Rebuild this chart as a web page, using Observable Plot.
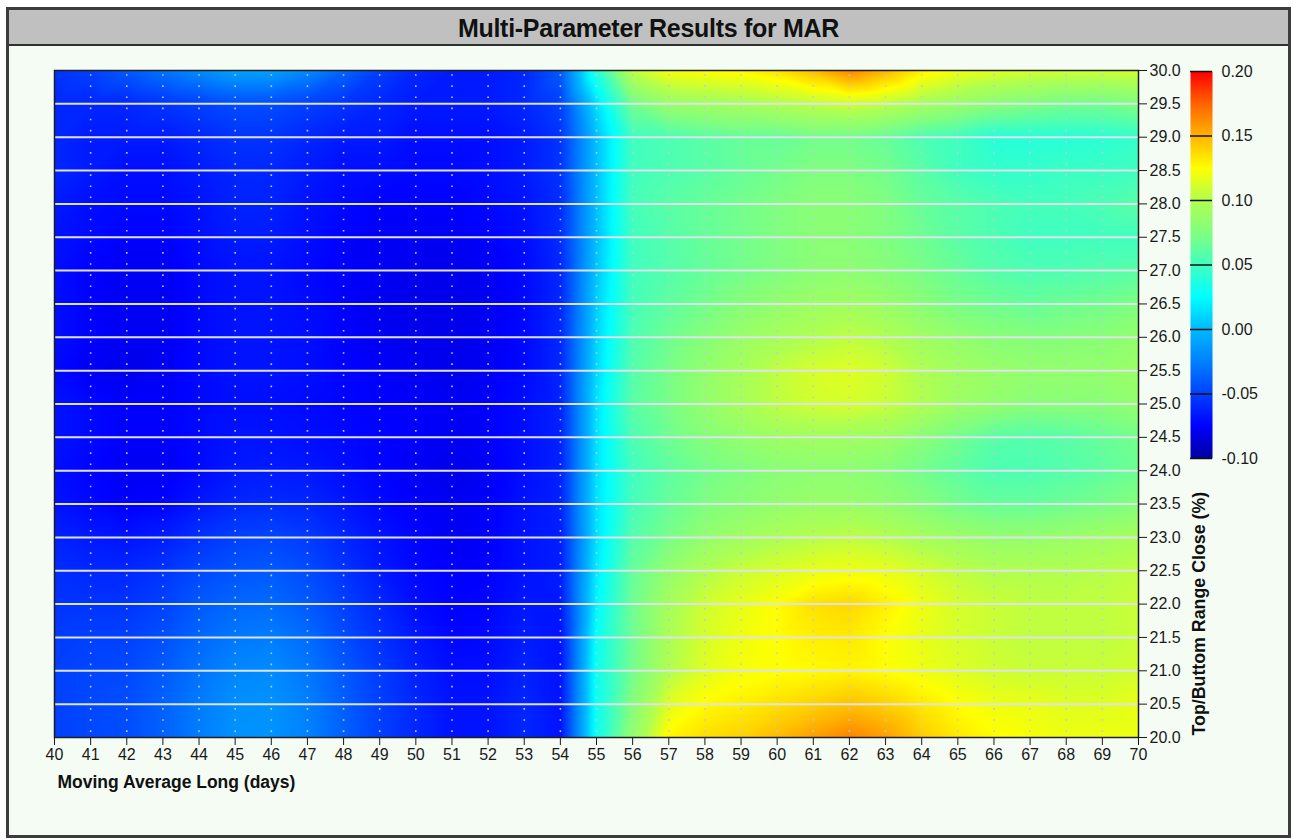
<!DOCTYPE html>
<html>
<head>
<meta charset="utf-8">
<script src="https://cdn.jsdelivr.net/npm/d3@7"></script>
<script src="https://cdn.jsdelivr.net/npm/@observablehq/plot@0.6"></script>
<style>
  body { margin: 0; background: #ffffff; font-family: Arial, "Liberation Sans", sans-serif; }
  #frame { position: absolute; left: 6px; top: 7px; width: 1279px; height: 825px; border: 3px solid #3c3c3c; background: #f4fcf4; }
  #title { height: 34px; line-height: 37px; background: #c0c0c0; border-bottom: 2px solid #303030; text-align: center; font-weight: bold; font-size: 25px; letter-spacing: -0.3px; color: #111; }
  #main { position: absolute; left: 9px; top: 47px; }
  #bar { position: absolute; left: 1180px; top: 50px; }
</style>
</head>
<body>
<div id="frame"><div id="title">Multi-Parameter Results for MAR</div></div>
<div id="main"></div>
<div id="bar"></div>
<script>
// ---- data ----
const xDays = [40,41,42,43,44,45,46,47,48,49,50,51,52,53,54,55,56,57,58,59,60,61,62,63,64,65,66,67,68,69,70];
const yRange = [30.0,29.5,29.0,28.5,28.0,27.5,27.0,26.5,26.0,25.5,25.0,24.5,24.0,23.5,23.0,22.5,22.0,21.5,21.0,20.5,20.0];

const row_30_0 = [-0.055,-0.05,-0.04,-0.03,-0.02,-0.01,-0.01,-0.02,-0.035,-0.05,-0.06,-0.065,-0.065,-0.06,-0.04,0.04,0.105,0.122,0.125,0.128,0.135,0.148,0.165,0.15,0.13,0.12,0.115,0.112,0.11,0.11,0.112];
const row_29_5 = [-0.06,-0.06,-0.06,-0.055,-0.05,-0.045,-0.045,-0.05,-0.055,-0.06,-0.065,-0.065,-0.065,-0.06,-0.05,0.014,0.07,0.088,0.092,0.095,0.1,0.105,0.11,0.105,0.095,0.088,0.08,0.075,0.07,0.07,0.075];
const row_29_0 = [-0.06,-0.065,-0.065,-0.065,-0.06,-0.055,-0.055,-0.06,-0.065,-0.065,-0.07,-0.07,-0.07,-0.065,-0.055,0.003,0.05,0.055,0.06,0.065,0.065,0.07,0.07,0.065,0.055,0.05,0.04,0.04,0.04,0.042,0.045];
const row_28_5 = [-0.06,-0.065,-0.07,-0.07,-0.065,-0.06,-0.06,-0.065,-0.07,-0.07,-0.072,-0.072,-0.07,-0.065,-0.055,0.003,0.05,0.055,0.06,0.065,0.07,0.075,0.075,0.07,0.06,0.05,0.045,0.045,0.048,0.048,0.05];
const row_28_0 = [-0.065,-0.07,-0.072,-0.072,-0.068,-0.062,-0.062,-0.068,-0.072,-0.075,-0.075,-0.075,-0.072,-0.068,-0.058,0.003,0.052,0.06,0.065,0.07,0.075,0.08,0.08,0.075,0.065,0.06,0.055,0.052,0.052,0.055,0.06];
const row_27_5 = [-0.068,-0.072,-0.075,-0.075,-0.07,-0.065,-0.065,-0.07,-0.075,-0.078,-0.078,-0.078,-0.075,-0.07,-0.058,0.003,0.05,0.058,0.065,0.07,0.075,0.08,0.08,0.075,0.068,0.06,0.055,0.05,0.05,0.05,0.05];
const row_27_0 = [-0.07,-0.075,-0.078,-0.078,-0.072,-0.068,-0.068,-0.072,-0.076,-0.078,-0.08,-0.08,-0.078,-0.072,-0.06,0.005,0.05,0.058,0.065,0.07,0.075,0.08,0.082,0.078,0.072,0.065,0.058,0.055,0.055,0.058,0.06];
const row_26_5 = [-0.07,-0.075,-0.078,-0.078,-0.072,-0.068,-0.068,-0.071,-0.075,-0.078,-0.08,-0.08,-0.078,-0.072,-0.06,0.008,0.052,0.062,0.07,0.078,0.085,0.09,0.092,0.088,0.08,0.072,0.068,0.065,0.068,0.07,0.075];
const row_26_0 = [-0.07,-0.075,-0.078,-0.078,-0.072,-0.068,-0.068,-0.07,-0.075,-0.078,-0.08,-0.08,-0.078,-0.072,-0.06,0.01,0.055,0.068,0.078,0.088,0.095,0.1,0.105,0.1,0.092,0.085,0.08,0.078,0.078,0.08,0.085];
const row_25_5 = [-0.072,-0.078,-0.08,-0.078,-0.072,-0.068,-0.068,-0.07,-0.074,-0.076,-0.078,-0.08,-0.078,-0.072,-0.06,0.012,0.058,0.072,0.085,0.095,0.105,0.112,0.115,0.11,0.1,0.092,0.088,0.085,0.085,0.085,0.088];
const row_25_0 = [-0.068,-0.072,-0.075,-0.075,-0.072,-0.07,-0.07,-0.072,-0.074,-0.075,-0.076,-0.078,-0.076,-0.07,-0.062,0.015,0.06,0.072,0.085,0.095,0.105,0.11,0.112,0.108,0.1,0.09,0.085,0.08,0.08,0.08,0.085];
const row_24_5 = [-0.068,-0.072,-0.076,-0.076,-0.072,-0.068,-0.068,-0.07,-0.072,-0.074,-0.076,-0.078,-0.076,-0.07,-0.062,0.015,0.055,0.068,0.078,0.085,0.09,0.092,0.092,0.09,0.08,0.07,0.06,0.058,0.06,0.065,0.07];
const row_24_0 = [-0.07,-0.074,-0.078,-0.078,-0.072,-0.066,-0.065,-0.066,-0.07,-0.074,-0.078,-0.08,-0.078,-0.07,-0.062,0.015,0.05,0.062,0.07,0.075,0.08,0.082,0.082,0.078,0.07,0.062,0.055,0.055,0.058,0.062,0.068];
const row_23_5 = [-0.068,-0.072,-0.076,-0.074,-0.066,-0.06,-0.058,-0.06,-0.066,-0.072,-0.076,-0.078,-0.076,-0.068,-0.062,0.015,0.052,0.065,0.075,0.08,0.085,0.088,0.088,0.085,0.078,0.07,0.065,0.065,0.068,0.072,0.078];
const row_23_0 = [-0.062,-0.066,-0.068,-0.064,-0.056,-0.05,-0.048,-0.052,-0.06,-0.068,-0.074,-0.078,-0.076,-0.068,-0.064,0.015,0.058,0.072,0.085,0.092,0.098,0.102,0.105,0.102,0.095,0.09,0.085,0.085,0.088,0.092,0.095];
const row_22_5 = [-0.058,-0.06,-0.06,-0.055,-0.047,-0.042,-0.04,-0.045,-0.055,-0.065,-0.072,-0.076,-0.075,-0.068,-0.064,0.018,0.065,0.085,0.1,0.108,0.113,0.118,0.12,0.118,0.112,0.105,0.1,0.1,0.1,0.102,0.105];
const row_22_0 = [-0.055,-0.055,-0.055,-0.05,-0.04,-0.035,-0.033,-0.04,-0.05,-0.06,-0.07,-0.075,-0.074,-0.066,-0.066,0.022,0.068,0.095,0.11,0.118,0.125,0.135,0.138,0.13,0.12,0.112,0.108,0.105,0.105,0.105,0.108];
const row_21_5 = [-0.052,-0.05,-0.05,-0.044,-0.035,-0.028,-0.026,-0.033,-0.045,-0.056,-0.066,-0.073,-0.072,-0.064,-0.068,0.028,0.068,0.098,0.112,0.12,0.125,0.13,0.132,0.125,0.118,0.112,0.108,0.105,0.105,0.105,0.108];
const row_21_0 = [-0.05,-0.048,-0.047,-0.04,-0.03,-0.022,-0.02,-0.028,-0.04,-0.052,-0.062,-0.07,-0.07,-0.062,-0.068,0.03,0.07,0.1,0.115,0.122,0.124,0.126,0.128,0.125,0.12,0.115,0.11,0.108,0.108,0.108,0.11];
const row_20_5 = [-0.05,-0.047,-0.045,-0.037,-0.027,-0.018,-0.017,-0.025,-0.038,-0.05,-0.06,-0.068,-0.068,-0.06,-0.068,0.03,0.078,0.115,0.126,0.13,0.135,0.14,0.145,0.14,0.132,0.125,0.12,0.118,0.115,0.115,0.118];
const row_20_0 = [-0.05,-0.047,-0.045,-0.037,-0.026,-0.017,-0.016,-0.024,-0.037,-0.05,-0.06,-0.068,-0.068,-0.06,-0.068,0.03,0.085,0.128,0.136,0.14,0.148,0.157,0.165,0.157,0.142,0.132,0.126,0.123,0.12,0.12,0.12];

const rowValues = [row_30_0,row_29_5,row_29_0,row_28_5,row_28_0,row_27_5,row_27_0,row_26_5,row_26_0,row_25_5,row_25_0,row_24_5,row_24_0,row_23_5,row_23_0,row_22_5,row_22_0,row_21_5,row_21_0,row_20_5,row_20_0];

const xTicks = xDays;
const yTicks = [20,20.5,21,21.5,22,22.5,23,23.5,24,24.5,25,25.5,26,26.5,27,27.5,28,28.5,29,29.5,30];
const yGridLines = [20.5,21,21.5,22,22.5,23,23.5,24,24.5,25,25.5,26,26.5,27,27.5,28,28.5,29,29.5];
const xGridLines = [41,42,43,44,45,46,47,48,49,50,51,52,53,54,55,56,57,58,59,60,61,62,63,64,65,66,67,68,69];
const colorTicks = [-0.10,-0.05,0.00,0.05,0.10,0.15,0.20];
const colorDomain = [-0.10, 0.20];
const stopColors = ["#0000a0","#0000ff","#0040ff","#0080ff","#00b8ff","#00ffff","#40ffc0","#80ff80","#b0ff50","#ffff00","#ffb400","#ff6400","#ff0000"];

const titleX = "Moving Average Long (days)";
const titleY = "Top/Buttom Range Close (%)";

// table built from arrays
const cells = [];
yRange.forEach((y, j) => xDays.forEach((x, i) => cells.push({x, y, v: rowValues[j][i]})));

const colorOpts = {type: "linear", domain: colorDomain, interpolate: d3.piecewise(d3.interpolateRgb, stopColors), clamp: true};
const font = "Arial, 'Liberation Sans', sans-serif";

const main = Plot.plot({
  width: 1278, height: 786,
  marginLeft: 45, marginTop: 23, marginRight: 149, marginBottom: 96,
  style: {background: "transparent", fontFamily: font, fontSize: "16px", color: "#1a1a1a", overflow: "visible"},
  x: {domain: [40, 70], ticks: xTicks, tickFormat: d => String(d), tickSize: 8, tickPadding: 3, label: null},
  y: {domain: [20, 30], ticks: yTicks, tickFormat: d => d.toFixed(1), tickSize: 8, tickPadding: 3, axis: "right", label: null},
  color: colorOpts,
  marks: [
    Plot.raster(cells, {x: "x", y: "y", fill: "v", interpolate: "barycentric", pixelSize: 1}),
    Plot.ruleY(yGridLines, {stroke: "#dfe2ea", strokeWidth: 2}),
    Plot.ruleX(xGridLines, {stroke: "#c4c8d8", strokeWidth: 1.6, strokeDasharray: "1.6,9.52", strokeDashoffset: -4.2}),
    Plot.frame({stroke: "#1e1e1e", strokeWidth: 1.5}),
    Plot.text([titleX], {frameAnchor: "bottom-left", dx: 3, dy: 50, textAnchor: "start", fontWeight: "bold", fontSize: 17.5, fill: "#111"}),
    Plot.text([titleY], {frameAnchor: "bottom-right", dx: 66, dy: -2, rotate: -90, textAnchor: "start", fontWeight: "bold", fontSize: 17.8, fill: "#111"})
  ]
});
document.getElementById("main").appendChild(main);

const bar = Plot.plot({
  width: 100, height: 430,
  marginLeft: 10, marginRight: 68, marginTop: 21, marginBottom: 22,
  style: {background: "transparent", fontFamily: font, fontSize: "16px", color: "#1a1a1a", overflow: "visible"},
  x: {domain: [0, 1], axis: null},
  y: {domain: colorDomain, ticks: colorTicks, tickFormat: d => d.toFixed(2), tickSize: 0, tickPadding: 9, axis: "right", label: null},
  color: colorOpts,
  marks: [
    Plot.raster({x1: 0, x2: 1, y1: -0.10, y2: 0.20, fill: (x, y) => y, pixelSize: 1}),
    Plot.ruleY(colorTicks, {stroke: "#111", strokeWidth: 1.5})
  ]
});
document.getElementById("bar").appendChild(bar);
</script>
</body>
</html>
